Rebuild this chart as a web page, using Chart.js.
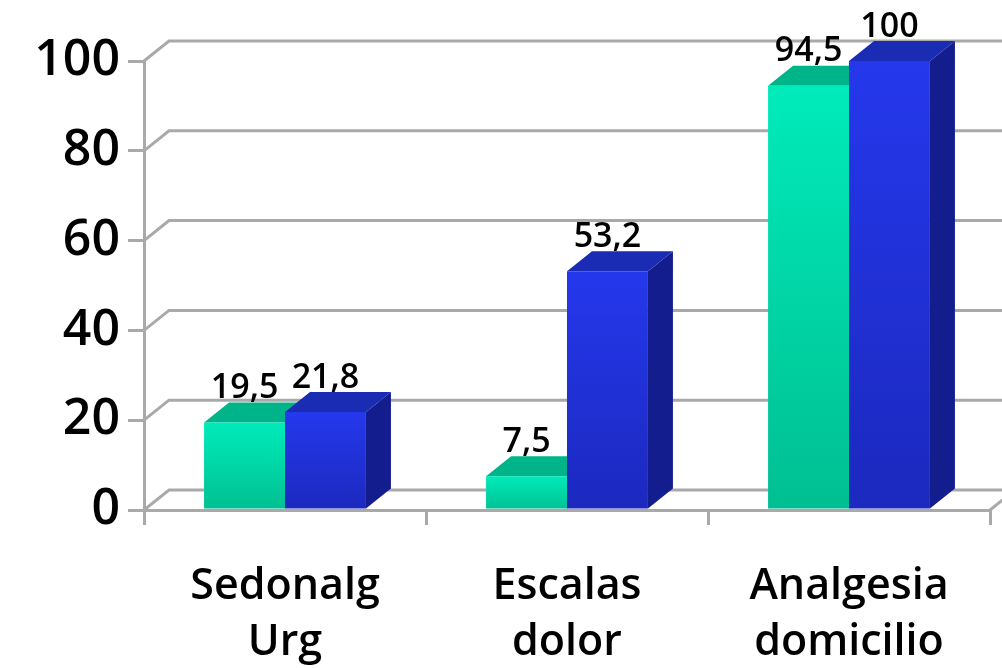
<!DOCTYPE html>
<html>
<head>
<meta charset="utf-8">
<script src="https://cdn.jsdelivr.net/npm/chart.js@4.4.1/dist/chart.umd.min.js"></script>
<style>
  body { margin: 0; background: #fff; }
  #wrap { width: 1002px; height: 668px; }
</style>
</head>
<body>
<div id="wrap"><canvas id="grafico"></canvas></div>
<script>
// datos
const categorias = [['Sedonalg', 'Urg'], ['Escalas', 'dolor'], ['Analgesia', 'domicilio']];
const serie1 = [19.5, 7.5, 94.5];
const serie2 = [21.8, 53.2, 100];
const ticksY = [0, 20, 40, 60, 80, 100];

// profundidad del efecto 3D
const DX = 25, DY = 20;
const gris = '#A9A9A9';

const colores = [
  { top: '#00EBBA', bottom: '#00BF92', tapa: '#00B48A', lado: '#00906E' },
  { top: '#2538EC', bottom: '#1B29BE', tapa: '#1A2BB4', lado: '#141D8E' }
];

// degradado vertical propio de cada barra
function degradado(i) {
  return function (context) {
    const chart = context.chart;
    const y = chart.scales.y;
    if (!chart.chartArea || !y || context.raw === undefined) return colores[i].top;
    const top = y.getPixelForValue(context.raw);
    const base = y.getPixelForValue(0);
    const g = chart.ctx.createLinearGradient(0, top, 0, base + 1);
    g.addColorStop(0, colores[i].top);
    g.addColorStop(1, colores[i].bottom);
    return g;
  };
}

const tresD = {
  id: 'tresD',
  beforeDatasetsDraw(chart) {
    const ctx = chart.ctx;
    const a = chart.chartArea;
    const y = chart.scales.y;
    ctx.save();
    // pared del fondo y suelo
    ctx.strokeStyle = gris;
    ctx.lineWidth = 3;
    ticksY.forEach(v => {
      const py = y.getPixelForValue(v);
      ctx.beginPath();
      ctx.moveTo(a.left, py);
      ctx.lineTo(a.left + DX, py - DY);
      ctx.lineTo(a.right + DX, py - DY);
      ctx.stroke();
    });
    ctx.beginPath();
    ctx.moveTo(a.right, a.bottom);
    ctx.lineTo(a.right + DX, a.bottom - DY);
    ctx.stroke();
    // caras superior y lateral de las barras
    chart.data.datasets.forEach((ds, i) => {
      chart.getDatasetMeta(i).data.forEach(bar => {
        const x0 = bar.x - bar.width / 2, x1 = bar.x + bar.width / 2;
        ctx.fillStyle = colores[i].lado;
        ctx.beginPath();
        ctx.moveTo(x1, bar.y);
        ctx.lineTo(x1 + DX, bar.y - DY);
        ctx.lineTo(x1 + DX, bar.base - DY);
        ctx.lineTo(x1, bar.base);
        ctx.closePath();
        ctx.fill();
        ctx.fillStyle = colores[i].tapa;
        ctx.beginPath();
        ctx.moveTo(x0, bar.y);
        ctx.lineTo(x0 + DX, bar.y - DY);
        ctx.lineTo(x1 + DX, bar.y - DY);
        ctx.lineTo(x1, bar.y);
        ctx.closePath();
        ctx.fill();
      });
    });
    ctx.restore();
  },
  afterDatasetsDraw(chart) {
    const ctx = chart.ctx;
    ctx.save();
    ctx.fillStyle = '#000';
    ctx.font = '600 34px "Open Sans"';
    ctx.textAlign = 'center';
    ctx.textBaseline = 'bottom';
    chart.data.datasets.forEach((ds, i) => {
      chart.getDatasetMeta(i).data.forEach((bar, j) => {
        const txt = String(ds.data[j]).replace('.', ',');
        ctx.fillText(txt, bar.x, bar.y - DY + 3);
      });
    });
    ctx.restore();
  }
};

const grafico = new Chart(document.getElementById('grafico'), {
  type: 'bar',
  data: {
    labels: categorias,
    datasets: [
      { label: 'Serie 1', data: serie1, backgroundColor: degradado(0), borderWidth: 0 },
      { label: 'Serie 2', data: serie2, backgroundColor: degradado(1), borderWidth: 0 }
    ]
  },
  options: {
    responsive: true,
    maintainAspectRatio: false,
    animation: false,
    layout: { padding: { top: 61, right: 12, left: 0, bottom: 0 } },
    datasets: { bar: { categoryPercentage: 0.574, barPercentage: 1.0 } },
    plugins: { legend: { display: false }, tooltip: { enabled: false } },
    scales: {
      x: {
        afterFit(s) { s.height = 158; },
        grid: { drawOnChartArea: false, tickLength: 15, color: gris, lineWidth: 3, offset: true },
        border: { color: gris, width: 3 },
        ticks: { color: '#000', padding: 34, maxRotation: 0, font: { family: 'Open Sans', size: 43, weight: '600', lineHeight: 1.3 } }
      },
      y: {
        min: 0,
        max: 100,
        afterFit(s) { s.width = 144; },
        grid: { drawOnChartArea: false, tickLength: 16, color: gris, lineWidth: 3 },
        border: { color: gris, width: 3 },
        ticks: { stepSize: 20, color: '#000', padding: 8, font: { family: 'Open Sans', size: 50, weight: '600' } }
      }
    }
  },
  plugins: [tresD]
});
</script>
</body>
</html>
